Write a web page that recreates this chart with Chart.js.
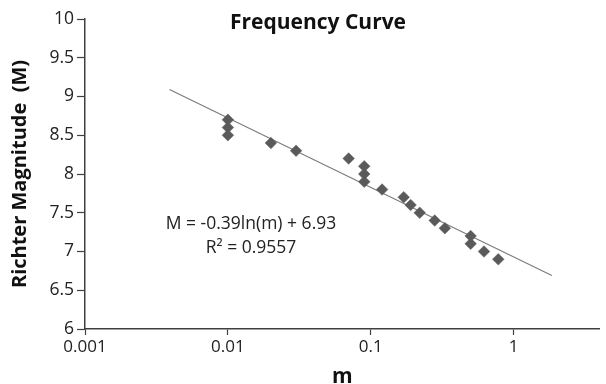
<!DOCTYPE html>
<html>
<head>
<meta charset="utf-8">
<script src="https://cdn.jsdelivr.net/npm/chart.js@4"></script>
<style>
  html, body { margin: 0; padding: 0; background: #fff; }
  #wrap { width: 606px; height: 384px; }
</style>
</head>
<body>
<div id="wrap"><canvas id="chart"></canvas></div>
<script>
// observed points (m, Richter magnitude)
const mValues = [0.01, 0.01, 0.01, 0.02, 0.03, 0.07, 0.09, 0.09, 0.09, 0.12, 0.17, 0.19, 0.22, 0.28, 0.33, 0.5, 0.5, 0.62, 0.78];
const magValues = [8.7, 8.6, 8.5, 8.4, 8.3, 8.2, 8.1, 8.0, 7.9, 7.8, 7.7, 7.6, 7.5, 7.4, 7.3, 7.2, 7.1, 7.0, 6.9];

// log trendline end points
const trendM = [0.0039, 1.85];
const trendMag = [9.09, 6.69];

const xTicks = [0.001, 0.01, 0.1, 1];
const xTickLabels = ["0.001", "0.01", "0.1", "1"];

const titleText = "Frequency Curve";
const eqLines = ["M = -0.39ln(m) + 6.93", "R\u00b2 = 0.9557"];

const FONT = "'Open Sans', sans-serif";
const axisColor = "#404040";

// title and equation sit inside the plot, like the Excel original
const overlayText = {
  id: "overlayText",
  afterDraw(chart) {
    const ctx = chart.ctx;
    ctx.save();
    ctx.fillStyle = "#111";
    ctx.textAlign = "center";
    ctx.textBaseline = "alphabetic";
    ctx.font = "bold 21px " + FONT;
    ctx.fillText(titleText, 318, 29);
    ctx.font = "17.5px " + FONT;
    ctx.fillStyle = "#222";
    ctx.fillText(eqLines[0], 251, 229);
    ctx.fillText(eqLines[1], 251, 253);
    ctx.restore();
  }
};

const ctx = document.getElementById("chart").getContext("2d");
const chart = new Chart(ctx, {
  type: "scatter",
  data: {
    datasets: [{
      label: "data",
      data: mValues.map(function(m, i) { return { x: m, y: magValues[i] }; }),
      pointStyle: "rectRot",
      pointRadius: 5.8,
      pointBackgroundColor: "#5a5a5a",
      pointBorderColor: "#5a5a5a",
      pointBorderWidth: 0.5,
      showLine: false
    }, {
      label: "trend",
      type: "line",
      data: trendM.map(function(m, i) { return { x: m, y: trendMag[i] }; }),
      borderColor: "#7a7a7a",
      borderWidth: 1.1,
      pointRadius: 0,
      fill: false
    }]
  },
  options: {
    responsive: true,
    maintainAspectRatio: false,
    animation: false,
    layout: { padding: { top: 19, right: 0, bottom: 0, left: 0 } },
    plugins: {
      legend: { display: false },
      tooltip: { enabled: false },
      title: { display: false }
    },
    scales: {
      x: {
        type: "logarithmic",
        min: 0.001,
        max: 4.0,
        afterBuildTicks: function(scale) {
          scale.ticks = xTicks.map(function(v) { return { value: v }; });
        },
        afterFit: function(scale) { scale.height = 55; },
        ticks: {
          color: "#222",
          font: { family: FONT, size: 17 },
          padding: 2,
          maxRotation: 0,
          autoSkip: false,
          callback: function(v) {
            const i = xTicks.indexOf(v);
            return i >= 0 ? xTickLabels[i] : "";
          }
        },
        grid: { drawOnChartArea: false, color: axisColor, tickLength: 6, tickWidth: 1.2 },
        border: { color: axisColor, width: 1.5 },
        title: {
          display: true,
          text: "m",
          color: "#111",
          font: { family: FONT, size: 21, weight: "bold" },
          padding: { top: 0, bottom: -6 }
        }
      },
      y: {
        min: 6,
        max: 10,
        afterFit: function(scale) { scale.width = 85; },
        ticks: {
          stepSize: 0.5,
          color: "#222",
          font: { family: FONT, size: 17.5 },
          padding: 3,
          callback: function(v) { return String(Math.round(v * 10) / 10); }
        },
        grid: { drawOnChartArea: false, color: axisColor, tickLength: 8, tickWidth: 1.2 },
        border: { color: axisColor, width: 1.5 },
        title: {
          display: true,
          text: "Richter Magnitude  (M)",
          color: "#111",
          font: { family: FONT, size: 20, weight: "bold" },
          padding: { top: 8, bottom: 0 }
        }
      }
    }
  },
  plugins: [overlayText]
});
</script>
</body>
</html>
